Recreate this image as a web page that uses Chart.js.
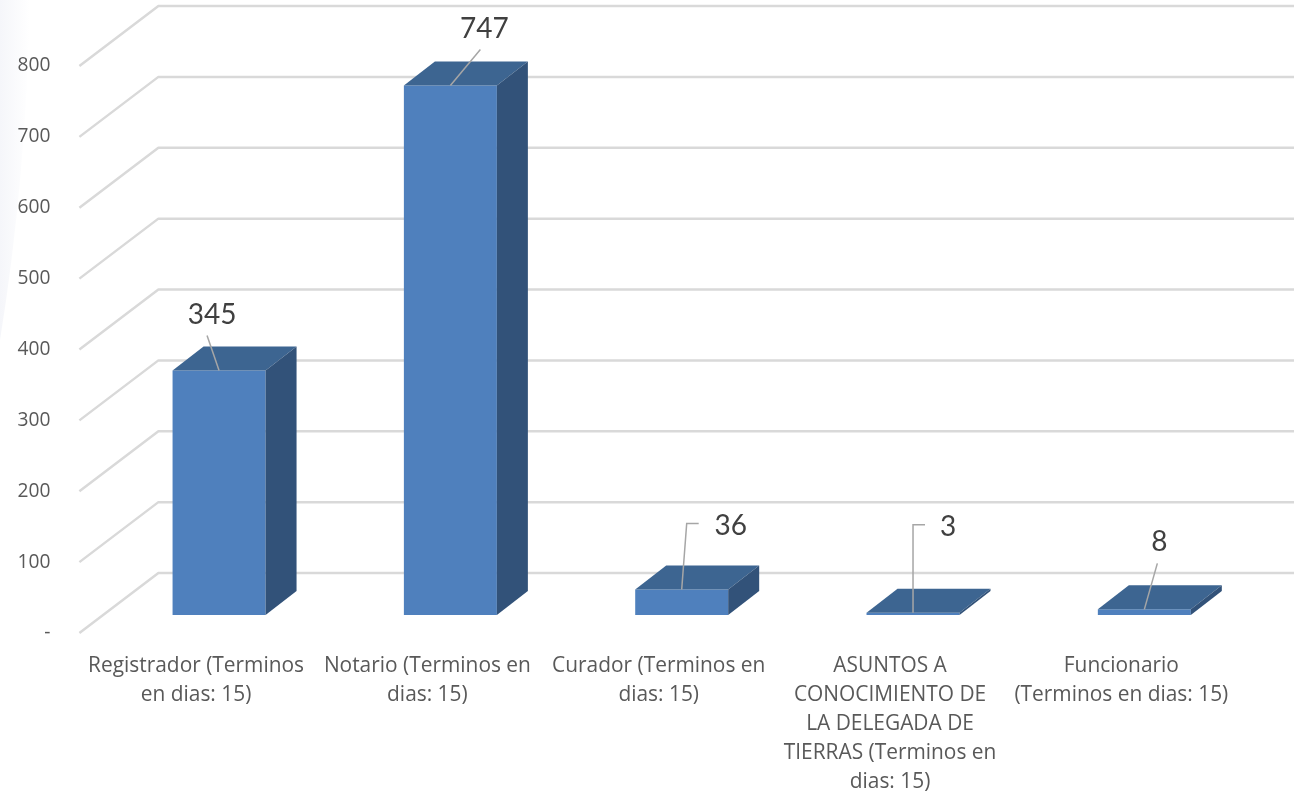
<!DOCTYPE html>
<html lang="es">
<head>
<meta charset="utf-8">
<title>Terminos en dias</title>
<style>
  html, body { margin: 0; padding: 0; background: #fff; overflow: hidden; }
  #wrap { position: relative; width: 1294px; height: 792px; }
</style>
<script src="https://cdn.jsdelivr.net/npm/chart.js@4"></script>
</head>
<body>
<div id="wrap"><canvas id="chart" width="1294" height="792"></canvas></div>
<script>
// Categories, wrapped the way the axis shows them
const categories = [
  ["Registrador (Terminos", "en dias: 15)"],
  ["Notario (Terminos en", "dias: 15)"],
  ["Curador (Terminos en", "dias: 15)"],
  ["ASUNTOS A", "CONOCIMIENTO DE", "LA DELEGADA DE", "TIERRAS (Terminos en", "dias: 15)"],
  ["Funcionario", "(Terminos en dias: 15)"]
];
const values = [345, 747, 36, 3, 8];
const yTicks = [0, 100, 200, 300, 400, 500, 600, 700, 800];

// Floor depth of the box: how far the back wall sits from the bar plane
const FRONT_DROP = { x: -24, y: 18 };   // bar plane to front edge of the floor
const BACK_RISE = { x: 55, y: -42 };    // bar plane to back wall
const BAR_DEPTH = { x: 31, y: -24 };    // thickness of each bar

// Callout placement for the value labels, relative to the top centre of each bar
const callouts = [
  { text: [-7, -56], leader: [[0, 0], [-12, -35]] },
  { text: [34, -57], leader: [[0, 0], [30, -36]] },
  { text: [49, -64], leader: [[0, 0], [5, -66], [17, -66]] },
  { text: [35, -86], leader: [[0, 0], [0, -88], [12, -88]] },
  { text: [15, -67], leader: [[0, 0], [13, -46]] }
];

const GRID = "#d9d9d9";
const FRONT = "#4f80bd";
const TOP = "#3d6591";
const SIDE = "#325279";
const FONT = "Lato, Carlito, sans-serif";
const AXIS_FONT = "'Open Sans', sans-serif";

const box3d = {
  id: "box3d",
  beforeDraw(chart) {
    // faint tint that fades out along the left page edge
    const c = chart.ctx;
    c.save();
    const g = c.createLinearGradient(0, 0, 30, 0);
    g.addColorStop(0, "#f5f6fa");
    g.addColorStop(1, "#ffffff");
    c.fillStyle = g;
    c.beginPath();
    c.moveTo(0, 0);
    c.lineTo(30, 0);
    c.quadraticCurveTo(26, 180, 0, 340);
    c.closePath();
    c.fill();
    c.restore();
  },
  beforeDatasetsDraw(chart) {
    const c = chart.ctx, y = chart.scales.y, a = chart.chartArea;
    c.save();
    c.strokeStyle = GRID;
    c.lineWidth = 2.5;
    c.lineJoin = "round";
    y.ticks.forEach(t => {
      const py = y.getPixelForValue(t.value);
      c.beginPath();
      c.moveTo(a.left + FRONT_DROP.x, py + FRONT_DROP.y);
      c.lineTo(a.left + BACK_RISE.x, py + BACK_RISE.y);
      c.lineTo(chart.width, py + BACK_RISE.y);
      c.stroke();
    });
    c.restore();
  },
  afterDatasetsDraw(chart) {
    const c = chart.ctx;
    const bars = chart.getDatasetMeta(0).data;
    c.save();
    bars.forEach((bar, i) => {
      const half = bar.width / 2;
      const l = bar.x - half, r = bar.x + half, t = bar.y, b = bar.base;
      // top face
      c.fillStyle = TOP;
      c.beginPath();
      c.moveTo(l, t);
      c.lineTo(l + BAR_DEPTH.x, t + BAR_DEPTH.y);
      c.lineTo(r + BAR_DEPTH.x, t + BAR_DEPTH.y);
      c.lineTo(r, t);
      c.closePath();
      c.fill();
      // right face
      c.fillStyle = SIDE;
      c.beginPath();
      c.moveTo(r, t);
      c.lineTo(r + BAR_DEPTH.x, t + BAR_DEPTH.y);
      c.lineTo(r + BAR_DEPTH.x, b + BAR_DEPTH.y);
      c.lineTo(r, b);
      c.closePath();
      c.fill();
    });
    // value labels with their leader lines
    bars.forEach((bar, i) => {
      const k = callouts[i];
      c.strokeStyle = "#a6a6a6";
      c.lineWidth = 1.5;
      c.beginPath();
      k.leader.forEach((p, j) => {
        const px = bar.x + p[0], py = bar.y + p[1];
        if (j === 0) c.moveTo(px, py); else c.lineTo(px, py);
      });
      c.stroke();
      c.fillStyle = "#404040";
      c.font = "28px " + FONT;
      c.textAlign = "center";
      c.textBaseline = "middle";
      c.fillText(String(values[i]), bar.x + k.text[0], bar.y + k.text[1]);
    });
    c.restore();
  }
};

new Chart(document.getElementById("chart"), {
  type: "bar",
  data: {
    labels: categories,
    datasets: [{
      data: values,
      backgroundColor: FRONT,
      borderWidth: 0,
      barPercentage: 0.402,
      categoryPercentage: 1
    }]
  },
  options: {
    responsive: false,
    animation: false,
    events: [],
    layout: { padding: { top: 48, right: 34, left: 0, bottom: 0 } },
    plugins: { legend: { display: false }, tooltip: { enabled: false }, title: { display: false } },
    scales: {
      x: {
        grid: { display: false, drawTicks: false },
        border: { display: false },
        afterFit(s) { s.height = 177; s.paddingLeft = 0; s.paddingRight = 0; },
        ticks: {
          autoSkip: false,
          maxRotation: 0,
          minRotation: 0,
          padding: 36.5,
          labelOffset: -23,
          color: "#595959",
          font: { family: AXIS_FONT, size: 20.9, lineHeight: 1.39 }
        }
      },
      y: {
        min: 0,
        max: 800,
        grid: { display: false, drawTicks: false },
        border: { display: false },
        afterBuildTicks(s) { s.ticks = yTicks.map(v => ({ value: v })); },
        afterFit(s) { s.width = 103.4; s.paddingTop = 0; s.paddingBottom = 0; },
        ticks: {
          padding: 53,
          labelOffset: 18,
          color: "#595959",
          font: { family: AXIS_FONT, size: 19.2 },
          callback: v => (v === 0 ? "-" : String(v))
        }
      }
    }
  },
  plugins: [box3d]
});
</script>
</body>
</html>
